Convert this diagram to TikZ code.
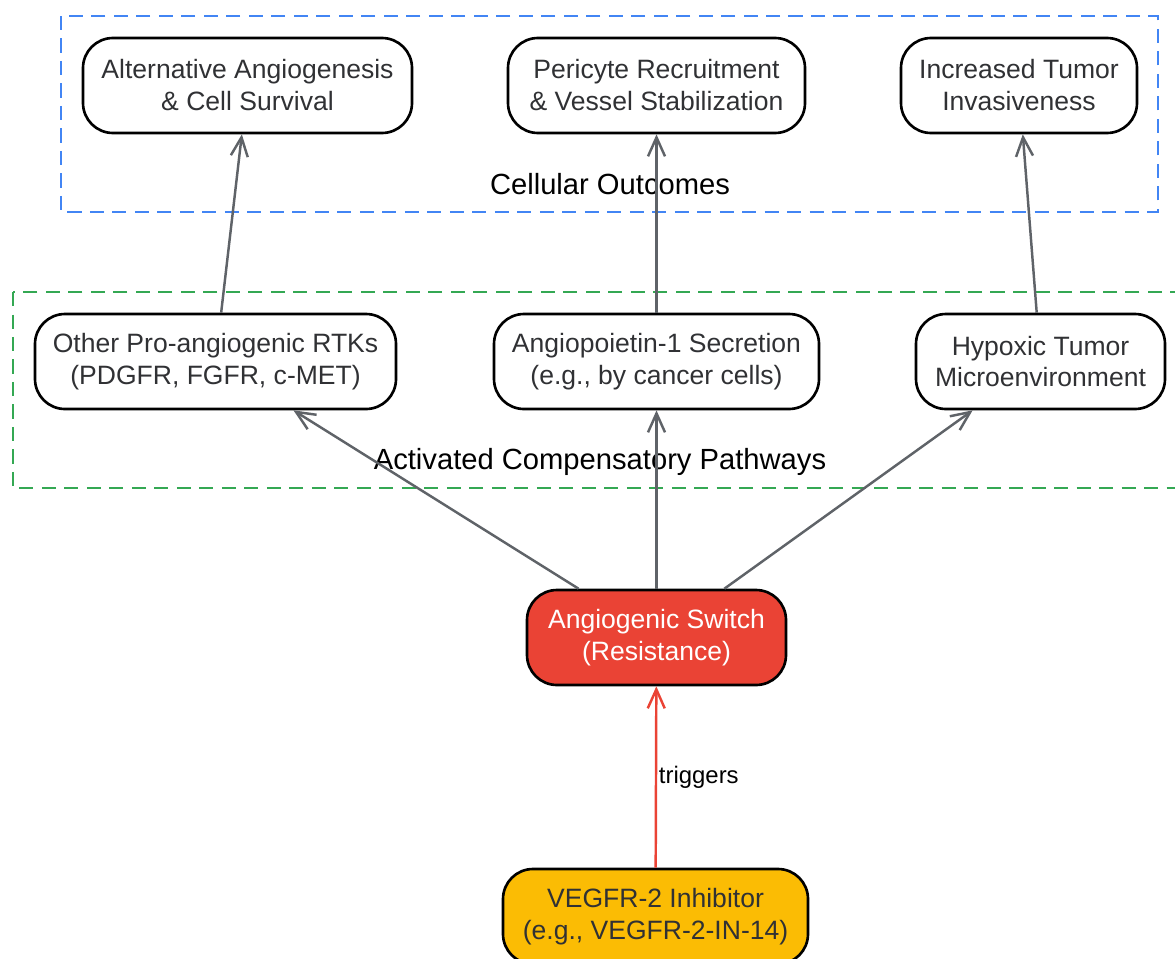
\documentclass[tikz,border=0pt]{standalone}
\usepackage{fontspec}
\setmainfont{Liberation Sans}
\usetikzlibrary{arrows.meta}
\definecolor{grpblue}{HTML}{4285F4}
\definecolor{grpgreen}{HTML}{34A853}
\definecolor{arrgray}{HTML}{5F6368}
\definecolor{swred}{HTML}{EA4335}
\definecolor{inhyellow}{HTML}{FBBC04}
\definecolor{txtgray}{HTML}{303134}

\begin{document}
\begin{tikzpicture}
		\useasboundingbox (0,0) rectangle (11.75,-9.58);
		\tikzset{box/.style={draw=black,line width=0.75pt,rounded corners=0.3cm,minimum height=0.95cm,align=center,inner sep=0pt,text=txtgray,font=\fontsize{7.55}{9.1}\selectfont}} %node boxes
		\tikzset{flow/.style={draw=arrgray,line width=0.7pt,-{Straight Barb[length=1.9mm,width=1.7mm]}}}
		\tikzset{grp/.style={line width=0.7pt,dash pattern=on 4pt off 2.4pt}}
		\draw[grp,grpblue] (0.61,-0.16) rectangle (11.58,-2.12); %groups
		\draw[grp,grpgreen] (0.13,-2.92) rectangle (11.90,-4.88);
		\node (cellular) at (6.10,-1.84) {\fontsize{8.3}{10}\selectfont Cellular Outcomes};
		\node (pathways) at (6.00,-4.62) {\fontsize{8.3}{10}\selectfont Activated Compensatory Pathways};
		\node[box,minimum width=3.29cm] (alt) at (2.475,-0.855) {Alternative Angiogenesis\\\& Cell Survival}; %outcomes
		\node[box,minimum width=2.97cm] (peri) at (6.565,-0.855) {Pericyte Recruitment\\\& Vessel Stabilization};
		\node[box,minimum width=2.36cm] (invas) at (10.19,-0.855) {Increased Tumor\\Invasiveness};
		\node[box,minimum width=3.61cm] (rtk) at (2.155,-3.615) {Other Pro-angiogenic RTKs\\(PDGFR, FGFR, c-MET)}; %pathways
		\node[box,minimum width=3.25cm] (ang) at (6.565,-3.615) {Angiopoietin-1 Secretion\\(e.g., by cancer cells)};
		\node[box,minimum width=2.49cm] (hypox) at (10.405,-3.615) {Hypoxic Tumor\\Microenvironment};
		\node[box,minimum width=2.59cm,fill=swred,text=white] (switch) at (6.565,-6.375) {Angiogenic Switch\\(Resistance)};
		\node[box,minimum width=3.05cm,fill=inhyellow] (inhib) at (6.555,-9.165) {VEGFR-2 Inhibitor\\(e.g., VEGFR-2-IN-14)};
		\draw[flow] (switch) -- (rtk); %edges
		\draw[flow] (switch) -- (ang);
		\draw[flow] (switch) -- (hypox);
		\draw[flow] (rtk) -- (alt);
		\draw[flow] (ang) -- (peri);
		\draw[flow] (hypox) -- (invas);
		\draw[flow,draw=swred] (inhib) -- node[anchor=west,inner sep=0.5pt,font=\fontsize{6.8}{8}\selectfont] (trig) {triggers} (switch);
	\end{tikzpicture}
\end{document}
